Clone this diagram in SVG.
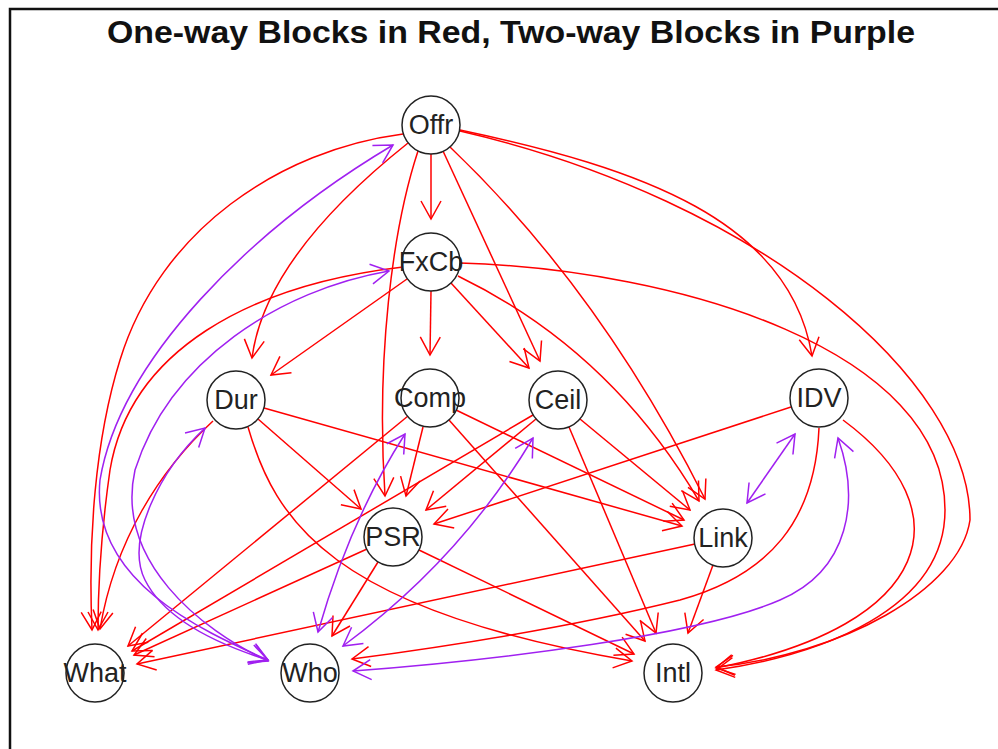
<svg xmlns="http://www.w3.org/2000/svg" width="998" height="749" viewBox="0 0 998 749">
<defs>
<marker id="ar" viewBox="-20 -12 22 24" markerWidth="22" markerHeight="24" refX="0" refY="0" orient="auto" markerUnits="userSpaceOnUse"><path d="M-18,-10 L0,0 L-18,10" fill="none" stroke="#ff0000" stroke-width="1.5"/></marker>
<marker id="ap" viewBox="-20 -12 22 24" markerWidth="22" markerHeight="24" refX="0" refY="0" orient="auto-start-reverse" markerUnits="userSpaceOnUse"><path d="M-18,-10 L0,0 L-18,10" fill="none" stroke="#a020f0" stroke-width="1.5"/></marker>
<style>
.r{fill:none;stroke:#ff0000;stroke-width:1.5;marker-end:url(#ar)}
.p{fill:none;stroke:#a020f0;stroke-width:1.5;marker-start:url(#ap);marker-end:url(#ap)}
.n circle{fill:#fff;stroke:#222;stroke-width:1.5}
.n text{font-family:"Liberation Sans",Arial,sans-serif;font-size:27px;fill:#222;text-anchor:middle}
.t{font-family:"Liberation Sans",Arial,sans-serif;font-size:31px;font-weight:bold;fill:#111}
</style>
</defs>
<rect width="998" height="749" fill="#fff"/>
<path d="M10,749 L10,9 L998,9" fill="none" stroke="#111" stroke-width="2.5"/>
<text class="t" x="107" y="43" textLength="808" lengthAdjust="spacingAndGlyphs">One-way Blocks in Red, Two-way Blocks in Purple</text>
<g id="connectors">
<path class="r" d="M431,154 L431,219"/>
<path class="r" d="M408,143 Q265,257 252,358"/>
<path class="r" d="M418,151 C392,230 376,360 385,496"/>
<path class="r" d="M443,151 L540,361"/>
<path class="r" d="M450,147 Q600,290 705,499"/>
<path class="r" d="M460,130 C640,168 790,220 812,356"/>
<path class="r" d="M460,131 C760,200 970,380 970,520 C960,590 840,655 716,667"/>
<path class="r" d="M403,134 C280,150 160,230 120,360 C95,440 88,540 92,630"/>
<path class="r" d="M431,291 L430,355"/>
<path class="r" d="M407,279 L271,375"/>
<path class="r" d="M451,283 L529,368"/>
<path class="r" d="M458,276 Q610,350 699,501"/>
<path class="r" d="M460,263 C680,270 945,350 945,510 C945,610 820,655 716,670"/>
<path class="r" d="M403,267 C250,285 130,350 110,470 C100,540 98,590 98,630"/>
<path class="r" d="M258,419 L361,509"/>
<path class="r" d="M264,408 L682,526"/>
<path class="r" d="M248,427 C275,520 330,610 632,661"/>
<path class="r" d="M213,421 C160,470 115,540 100,629"/>
<path class="r" d="M423,427 L406,496"/>
<path class="r" d="M456,410 L684,520"/>
<path class="r" d="M449,420 L645,641"/>
<path class="r" d="M408,416 L128,646"/>
<path class="r" d="M536,419 L426,510"/>
<path class="r" d="M580,419 L690,510"/>
<path class="r" d="M569,427 L656,633"/>
<path class="r" d="M533,415 L132,651"/>
<path class="r" d="M791,407 L434,524"/>
<path class="r" d="M843,420 C965,510 935,625 716,668"/>
<path class="r" d="M819,428 C815,520 770,575 680,600 C560,630 420,650 352,659"/>
<path class="r" d="M367,549 L134,655"/>
<path class="r" d="M378,562 L332,636"/>
<path class="r" d="M419,550 L634,654"/>
<path class="r" d="M713,565 L688,633"/>
<path class="r" d="M695,544 L137,664"/>
<path class="p" d="M393,145 C250,230 120,360 100,480 C90,580 200,630 268,660"/>
<path class="p" d="M389,271 C280,290 170,360 135,470 C115,560 200,630 268,661"/>
<path class="p" d="M205,428 C160,470 125,540 145,580 C165,620 220,645 268,660"/>
<path class="p" d="M405,434 Q350,520 318,632"/>
<path class="p" d="M533,438 Q460,560 343,646"/>
<path class="p" d="M795,434 L747,503"/>
<path class="p" d="M838,438 C860,500 850,570 780,600 C700,635 500,660 353,671"/>
</g>
<g id="Offr" class="n"><circle cx="431" cy="125" r="29"/><text x="431" y="134">Offr</text></g>
<g id="FxCb" class="n"><circle cx="431" cy="262" r="29"/><text x="431" y="271">FxCb</text></g>
<g id="Dur" class="n"><circle cx="236" cy="400" r="29"/><text x="236" y="409">Dur</text></g>
<g id="Comp" class="n"><circle cx="430" cy="398" r="29"/><text x="430" y="407">Comp</text></g>
<g id="Ceil" class="n"><circle cx="558" cy="400" r="29"/><text x="558" y="409">Ceil</text></g>
<g id="IDV" class="n"><circle cx="819" cy="398" r="29"/><text x="819" y="407">IDV</text></g>
<g id="PSR" class="n"><circle cx="393" cy="537" r="29"/><text x="393" y="546">PSR</text></g>
<g id="Link" class="n"><circle cx="723" cy="538" r="29"/><text x="723" y="547">Link</text></g>
<g id="What" class="n"><circle cx="95" cy="673" r="29"/><text x="95" y="682">What</text></g>
<g id="Who" class="n"><circle cx="310" cy="673" r="29"/><text x="310" y="682">Who</text></g>
<g id="Intl" class="n"><circle cx="673" cy="673" r="29"/><text x="673" y="682">Intl</text></g>
</svg>
